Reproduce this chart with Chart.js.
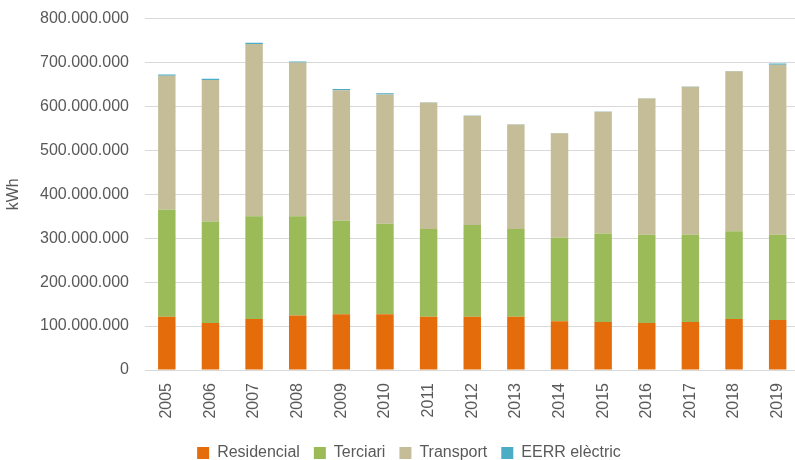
<!DOCTYPE html>
<html>
<head>
<meta charset="utf-8">
<script src="https://cdn.jsdelivr.net/npm/chart.js@4"></script>
<style>
  html, body { margin: 0; padding: 0; background: #fff; overflow: hidden; }
  #wrap { position: relative; top: -7px; width: 810px; height: 480px; }
</style>
</head>
<body>
<div id="wrap"><canvas id="chart"></canvas></div>
<script>
// Energy consumption by sector (kWh), 2005–2019
const years = ['2005','2006','2007','2008','2009','2010','2011','2012','2013','2014','2015','2016','2017','2018','2019'];
const residencial = [121e6, 107e6, 116e6, 124e6, 127e6, 127e6, 121e6, 121e6, 121e6, 111e6, 109e6, 107e6, 109e6, 116e6, 114e6];
const terciari    = [244e6, 231e6, 234e6, 226e6, 213e6, 206e6, 200e6, 209e6, 200e6, 190e6, 202e6, 201e6, 199e6, 200e6, 194e6];
const transport   = [305e6, 322e6, 392e6, 350e6, 297e6, 294e6, 288e6, 249e6, 238e6, 238e6, 277e6, 310e6, 337e6, 364e6, 387e6];
const eerrElectric = [2.5e6, 3e6, 3e6, 2.5e6, 3e6, 3e6, 0.5e6, 0.5e6, 0.5e6, 0.5e6, 0.5e6, 0.5e6, 0.5e6, 0.5e6, 3e6];
const yTicks = [0, 100e6, 200e6, 300e6, 400e6, 500e6, 600e6, 700e6, 800e6];

const fmt = v => v === 0 ? '0' : String(Math.round(v)).replace(/\B(?=(\d{3})+(?!\d))/g, '.');
const textColor = '#595959';
const font = { family: '"Liberation Sans", Arial, sans-serif', size: 16 };

new Chart(document.getElementById('chart'), {
  type: 'bar',
  data: {
    labels: years,
    datasets: [
      { label: 'Residencial', data: residencial, backgroundColor: '#E46C0A' },
      { label: 'Terciari', data: terciari, backgroundColor: '#9BBB59' },
      { label: 'Transport', data: transport, backgroundColor: '#C4BD97' },
      { label: 'EERR elèctric', data: eerrElectric, backgroundColor: '#4BACC6' }
    ]
  },
  options: {
    responsive: true,
    maintainAspectRatio: false,
    animation: false,
    layout: { padding: { top: 3, right: 4, left: 12, bottom: 2 } },
    datasets: { bar: { barPercentage: 0.4, categoryPercentage: 1.0 } },
    plugins: {
      tooltip: { enabled: false },
      legend: {
        position: 'bottom',
        labels: {
          color: textColor,
          font: font,
          boxWidth: 12,
          boxHeight: 12,
          padding: 14
        }
      }
    },
    scales: {
      x: {
        stacked: true,
        grid: { display: false, drawTicks: false },
        border: { color: '#d9d9d9', width: 1 },
        ticks: { color: textColor, font: font, minRotation: 90, maxRotation: 90, padding: 13 },
        afterFit: s => { s.height = 61; }
      },
      y: {
        stacked: true,
        min: 0,
        max: 800e6,
        afterBuildTicks: s => { s.ticks = yTicks.map(v => ({ value: v })); },
        grid: { color: '#d9d9d9', lineWidth: 1, drawTicks: false },
        border: { display: false },
        ticks: { color: textColor, font: font, padding: 16, callback: v => fmt(v) },
        title: { display: true, text: 'kWh', color: textColor, font: font, padding: { top: -8, bottom: 0 } },
        afterFit: s => { s.width = 133; }
      }
    }
  }
});
</script>
</body>
</html>
